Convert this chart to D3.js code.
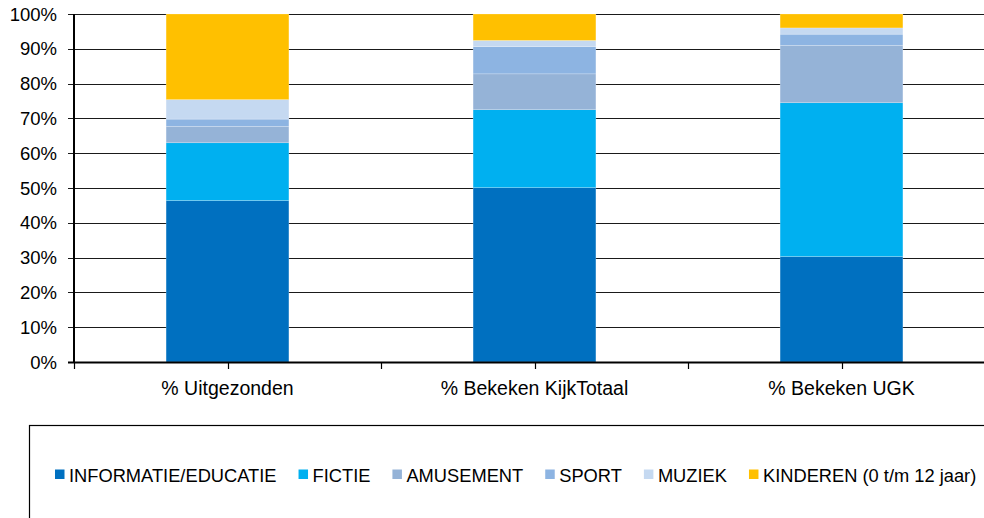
<!DOCTYPE html>
<html>
<head>
<meta charset="utf-8">
<script src="https://cdn.jsdelivr.net/npm/d3@7"></script>
<style>
	body { margin: 0; background: #fff; }
	text { font-family: "Liberation Sans", Arial, sans-serif; fill: #000; }
</style>
</head>
<body>
<div id="chart"></div>
<script>

// Categories and series (percentages per bar)
var categories = ["% Uitgezonden", "% Bekeken KijkTotaal", "% Bekeken UGK"];
var seriesKeys = ["INFORMATIE/EDUCATIE", "FICTIE", "AMUSEMENT", "SPORT", "MUZIEK", "KINDEREN (0 t/m 12 jaar)"];
var informatie = [46.4, 50.1, 30.3];
var fictie = [16.6, 22.4, 44.2];
var amusement = [4.7, 10.3, 16.5];
var sport = [2.1, 7.8, 3.2];
var muziek = [5.6, 1.8, 1.8];
var kinderen = [24.6, 7.6, 4.0];
var yTicks = [0, 10, 20, 30, 40, 50, 60, 70, 80, 90, 100];

var colors = ["#0070C0", "#00B0F0", "#95B3D7", "#8DB4E2", "#C5D9F1", "#FFC000"];
var seriesValues = [informatie, fictie, amusement, sport, muziek, kinderen];

// Build rows for d3.stack
var data = categories.map(function(c, i) {
	var row = {cat: c};
	seriesKeys.forEach(function(k, j) { row[k] = seriesValues[j][i]; });
	return row;
});

var width = 984, height = 518;
var plotLeft = 74, plotTop = 14, plotBottom = 362;

var svg = d3.select("#chart").append("svg")
	.attr("width", width)
	.attr("height", height);

var xScale = d3.scaleBand()
	.domain(categories)
	.range([plotLeft, plotLeft + 3 * 307])
	.paddingInner(0.6)
	.paddingOuter(0.3);

var yScale = d3.scaleLinear().domain([0, 100]).range([plotBottom, plotTop]);

// Gridlines
svg.append("g")
	.selectAll("line")
	.data(yTicks.slice(1))
	.enter().append("line")
	.attr("x1", plotLeft - 6)
	.attr("x2", width)
	.attr("y1", function(d) { return Math.round(yScale(d)) + 0.5; })
	.attr("y2", function(d) { return Math.round(yScale(d)) + 0.5; })
	.attr("stroke", "#1a1a1a")
	.attr("stroke-width", 1);

// Stacked bars
var layers = d3.stack().keys(seriesKeys)(data);

svg.selectAll(".layer")
	.data(layers)
	.enter().append("g")
	.attr("class", "layer")
	.attr("fill", function(d, i) { return colors[i]; })
	.selectAll("rect")
	.data(function(d) { return d; })
	.enter().append("rect")
	.attr("x", function(d) { return xScale(d.data.cat); })
	.attr("width", xScale.bandwidth())
	.attr("y", function(d) { return yScale(d[1]); })
	.attr("height", function(d) { return yScale(d[0]) - yScale(d[1]); })
	.attr("stroke", "rgba(255,255,255,0.35)")
	.attr("stroke-width", 0.6);

// Y axis line and labels
svg.append("line")
	.attr("x1", plotLeft).attr("x2", plotLeft)
	.attr("y1", plotTop).attr("y2", plotBottom + 1)
	.attr("stroke", "#000").attr("stroke-width", 2);

svg.append("g")
	.selectAll("text")
	.data(yTicks)
	.enter().append("text")
	.attr("x", 57)
	.attr("y", function(d) { return yScale(d) + 6.5; })
	.attr("text-anchor", "end")
	.style("font-size", "18.5px")
	.text(function(d) { return d + "%"; });

// X axis line, ticks at every half band, labels
svg.append("line")
	.attr("x1", plotLeft - 6).attr("x2", width)
	.attr("y1", plotBottom + 0.5).attr("y2", plotBottom + 0.5)
	.attr("stroke", "#000").attr("stroke-width", 2);

var step = xScale.step();
var xTicks = d3.range(0, categories.length * 2).map(function(i) { return plotLeft + i * step / 2; });

svg.append("g")
	.selectAll("line")
	.data(xTicks)
	.enter().append("line")
	.attr("x1", function(d) { return Math.round(d) + 0.5; })
	.attr("x2", function(d) { return Math.round(d) + 0.5; })
	.attr("y1", plotBottom)
	.attr("y2", plotBottom + 7)
	.attr("stroke", "#000")
	.attr("stroke-width", 1.2);

svg.append("g")
	.selectAll("text")
	.data(categories)
	.enter().append("text")
	.attr("x", function(d) { return xScale(d) + xScale.bandwidth() / 2; })
	.attr("y", 395)
	.attr("text-anchor", "middle")
	.style("font-size", "19.5px")
	.text(function(d) { return d; });

// Legend box
svg.append("rect")
	.attr("x", 29.5)
	.attr("y", 425.5)
	.attr("width", 1000)
	.attr("height", 120)
	.attr("fill", "none")
	.attr("stroke", "#000")
	.attr("stroke-width", 1.2);

// Legend items laid out by measured text width
var legend = svg.append("g");
var lx = 55;
seriesKeys.forEach(function(k, i) {
	legend.append("rect")
		.attr("x", lx)
		.attr("y", 469.5)
		.attr("width", 9.5)
		.attr("height", 9.5)
		.attr("fill", colors[i]);
	var t = legend.append("text")
		.attr("x", lx + 14)
		.attr("y", 482)
		.style("font-size", "18.3px")
		.text(k);
	lx = lx + 14 + t.node().getComputedTextLength() + 22;
});

</script>
</body>
</html>
